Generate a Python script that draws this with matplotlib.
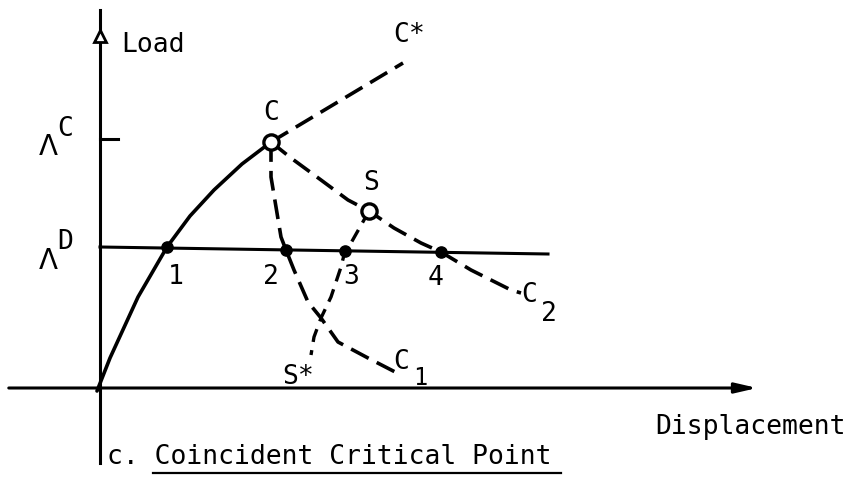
import matplotlib
matplotlib.use("Agg")
import matplotlib.pyplot as plt

plt.rcParams['font.family'] = ['DejaVu Sans Mono', 'DejaVu Sans']

# schematic load-displacement diagram, units are arbitrary (origin at axes cross)
lam_C = 249
lam_D = [141, 134]          # hand drawn line, slightly tilted
lam_D_x = [0, 448]

primary_x = [-3, 10, 38, 67, 90, 114, 142, 171]
primary_y = [-3, 30, 91, 141, 172, 198, 224, 246]

cstar_x = [171, 303]
cstar_y = [246, 325]

c2_x = [171, 191, 221, 248, 269, 294, 321, 341, 371, 411, 421]
c2_y = [246, 230, 208, 188, 177, 160, 145, 136, 118, 98, 95]

c1_x = [171, 171, 176, 181, 186, 194, 208, 221, 238, 268, 301]
c1_y = [246, 211, 181, 151, 138, 118, 86, 70, 46, 30, 13]

sstar_x = [269, 264, 251, 245, 241, 231, 221, 214, 211]
sstar_y = [177, 168, 145, 137, 121, 91, 70, 51, 33]

pts_x = [67, 186, 245, 341]
pts_y = [141, 138, 137, 136]
pts_lab = ['1', '2', '3', '4']
lab_x = [76, 171, 251, 336]
lab_y = [111, 111, 111, 110]

crit_x = [171, 269]
crit_y = [246, 177]

fig = plt.figure(figsize=(8.5, 4.78), dpi=100)
ax = fig.add_axes([0, 0, 1, 1])
ax.set_xlim(-100, 750)
ax.set_ylim(-90, 388)
ax.axis('off')

fs = 19
dash = (0, (5.5, 2.5))

# axes
ax.annotate('', xy=(660, 0), xytext=(-94, 0),
            arrowprops=dict(arrowstyle='-|>,head_length=1.3,head_width=0.3',
                            lw=2.2, color='black'))
ax.plot([0, 0], [-75, 378], color='black', lw=2.2)
ax.plot([0], [352], marker='^', markersize=9, markerfacecolor='white',
        markeredgecolor='black', markeredgewidth=2)
ax.plot([0, 18], [lam_C, lam_C], color='black', lw=2.2)

# Lambda D line
ax.plot(lam_D_x, lam_D, color='black', lw=2.2)

# branches
ax.plot(primary_x, primary_y, color='black', lw=2.6, solid_capstyle='round')
ax.plot(cstar_x, cstar_y, color='black', lw=2.6, linestyle=dash)
ax.plot(c2_x, c2_y, color='black', lw=2.6, linestyle=dash)
ax.plot(c1_x, c1_y, color='black', lw=2.6, linestyle=dash)
ax.plot(sstar_x, sstar_y, color='black', lw=2.4, linestyle=(0, (4, 2.5)))

ax.scatter(pts_x, pts_y, s=65, color='black', zorder=3)
ax.scatter(crit_x, crit_y, s=120, facecolor='white', edgecolor='black',
           linewidth=2.4, zorder=4)

# labels
for x, y, t in zip(lab_x, lab_y, pts_lab):
    ax.text(x, y, t, fontsize=fs, ha='center', va='center')

ax.text(21, 343, 'Load', fontsize=fs, ha='left', va='center')
ax.text(309, 353, 'C*', fontsize=fs, ha='center', va='center')
ax.text(171, 275, 'C', fontsize=fs, ha='center', va='center')
ax.text(271, 205, 'S', fontsize=fs, ha='center', va='center')
ax.text(-52, 241, '\u039b', fontsize=20, family='DejaVu Sans', ha='center', va='center')
ax.text(-35, 259, 'C', fontsize=fs, ha='center', va='center')
ax.text(-52, 127, '\u039b', fontsize=20, family='DejaVu Sans', ha='center', va='center')
ax.text(-35, 146, 'D', fontsize=fs, ha='center', va='center')
ax.text(429, 93, 'C', fontsize=fs, ha='center', va='center')
ax.text(449, 74, '2', fontsize=fs, ha='center', va='center')
ax.text(301, 26, 'C', fontsize=fs, ha='center', va='center')
ax.text(320, 10, '1', fontsize=17, ha='center', va='center')
ax.text(198, 11, 'S*', fontsize=fs, ha='center', va='center')
ax.text(651, -39, 'Displacement', fontsize=fs, ha='center', va='center')
ax.text(7, -69, 'c. Coincident Critical Point', fontsize=fs, ha='left', va='center')
ax.plot([53, 461], [-85, -85], color='black', lw=1.6)

fig.savefig('out.png', dpi=100)
